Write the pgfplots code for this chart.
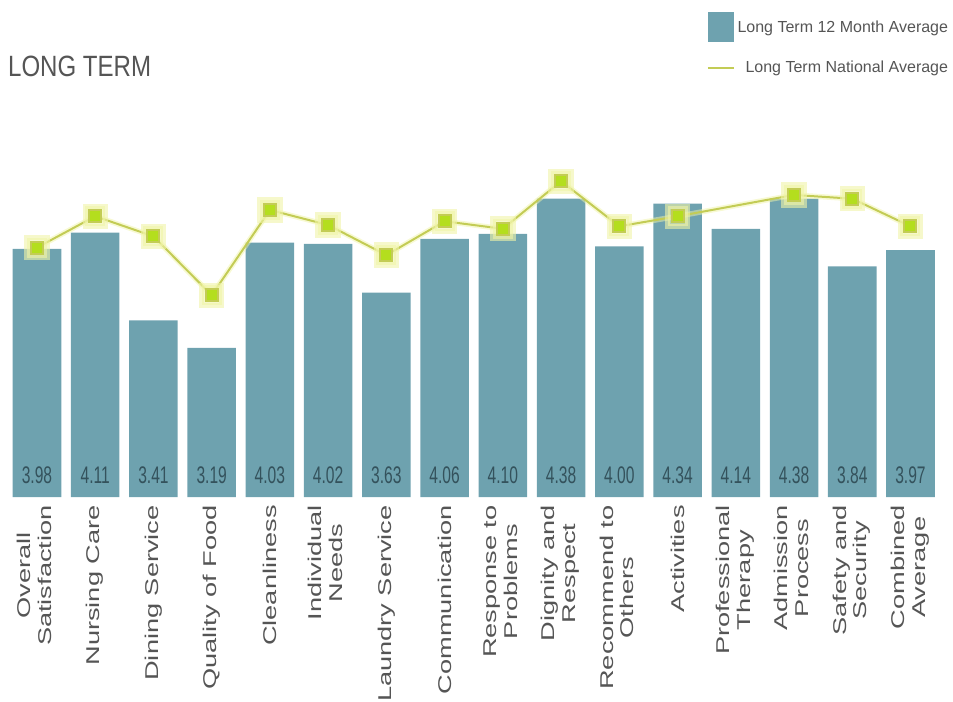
\documentclass[border=0pt]{standalone}
\usepackage{pgfplots}
\pgfplotsset{compat=1.18}
\usepackage{fontspec}
\setmainfont{Liberation Sans}
\definecolor{barcol}{HTML}{6EA2AF}
\definecolor{linecol}{HTML}{C3CC55}
\definecolor{markcol}{HTML}{B4DE1E}
\definecolor{glowcol}{HTML}{F0F4A8}
\definecolor{textgray}{HTML}{555555}
\definecolor{labcol}{HTML}{34525C}
\newcommand{\tlone}[1]{\scalebox{1}[0.68]{#1}}
\newcommand{\tltwo}[2]{\scalebox{1}[0.68]{\begin{tabular}{@{}c@{}}#1\\#2\end{tabular}}}
\begin{document}
\begin{tikzpicture}
\begin{axis}[
  name=ax,
  scale only axis, width=698.8pt, height=282pt,
  xmin=-0.5, xmax=15.5, ymin=2, ymax=5,
  axis line style={draw=none},
  ytick=\empty,
  xtick={0,...,15},
  major tick length=0pt,
  xticklabels={
    {\tltwo{Overall}{Satisfaction}},
    {\tlone{Nursing Care}},
    {\tlone{Dining Service}},
    {\tlone{Quality of Food}},
    {\tlone{Cleanliness}},
    {\tltwo{Individual}{Needs}},
    {\tlone{Laundry Service}},
    {\tlone{Communication}},
    {\tltwo{Response to}{Problems}},
    {\tltwo{Dignity and}{Respect}},
    {\tltwo{Recommend to}{Others}},
    {\tlone{Activities}},
    {\tltwo{Professional}{Therapy}},
    {\tltwo{Admission}{Process}},
    {\tltwo{Safety and}{Security}},
    {\tltwo{Combined}{Average}}},
  xticklabel style={rotate=90, anchor=east, inner sep=0pt, text=textgray,
    font=\fontsize{20.4}{23}\selectfont},
  xticklabel shift=6pt,
  legend style={at={(axis description cs:1.0122,1.29)}, anchor=north east,
    draw=none, fill=none, inner sep=0pt, row sep=12pt,
    font=\fontsize{12}{14}\selectfont, text=textgray,
    nodes={inner sep=2pt}},
  legend cell align=right,
]
\addplot[ybar, bar width=36.4pt, bar shift=0pt, fill=barcol, draw=none,
  legend image code/.code={\fill[barcol] (0pt,-11.25pt) rectangle (19.5pt,11.25pt);}]
  table {
x y
0 3.98
1 4.11
2 3.41
3 3.19
4 4.03
5 4.02
6 3.63
7 4.06
8 4.10
9 4.38
10 4.00
11 4.34
12 4.14
13 4.38
14 3.84
15 3.97
};
\addlegendentry{Long Term 12 Month Average}
\addplot[forget plot, color=glowcol, opacity=0.5, line width=4pt,
  mark=square*, mark size=7.5pt, mark options={fill=glowcol, draw=none, opacity=0.6}]
  table {
x y
0 3.99
1 4.24
2 4.08
3 3.61
4 4.29
5 4.17
6 3.93
7 4.20
8 4.14
9 4.52
10 4.16
11 4.24
13 4.41
14 4.38
15 4.16
};
\addplot[color=linecol, line width=1.5pt,
  mark=square*, mark size=4.5pt, mark options={fill=markcol, draw=none},
  legend image code/.code={\path (0pt,0pt) -- (19.5pt,0pt);\draw[linecol, line width=1.5pt] (10pt,0pt) -- (19.5pt,0pt);}]
  table {
x y
0 3.99
1 4.24
2 4.08
3 3.61
4 4.29
5 4.17
6 3.93
7 4.20
8 4.14
9 4.52
10 4.16
11 4.24
13 4.41
14 4.38
15 4.16
};
\addlegendentry{Long Term National Average}
\addplot[forget plot, draw=none, mark=none, nodes near coords,
  point meta=explicit symbolic,
  nodes near coords style={anchor=center, inner sep=0pt, text=labcol,
    font=\fontsize{18}{20}\selectfont, xscale=0.65}]
  table[meta=lab] {
x y lab
0 2.17 3.98
1 2.17 4.11
2 2.17 3.41
3 2.17 3.19
4 2.17 4.03
5 2.17 4.02
6 2.17 3.63
7 2.17 4.06
8 2.17 4.10
9 2.17 4.38
10 2.17 4.00
11 2.17 4.34
12 2.17 4.14
13 2.17 4.38
14 2.17 3.84
15 2.17 3.97
};
\end{axis}
\node[anchor=west, inner sep=0pt, text=textgray] at ([yshift=40.9pt]ax.north west)
  {\scalebox{0.82}[1]{\fontsize{22}{26}\selectfont LONG TERM}};
\path[use as bounding box] (-5.9pt,-153pt) rectangle (708.85pt,372.75pt);
\end{tikzpicture}
\end{document}
